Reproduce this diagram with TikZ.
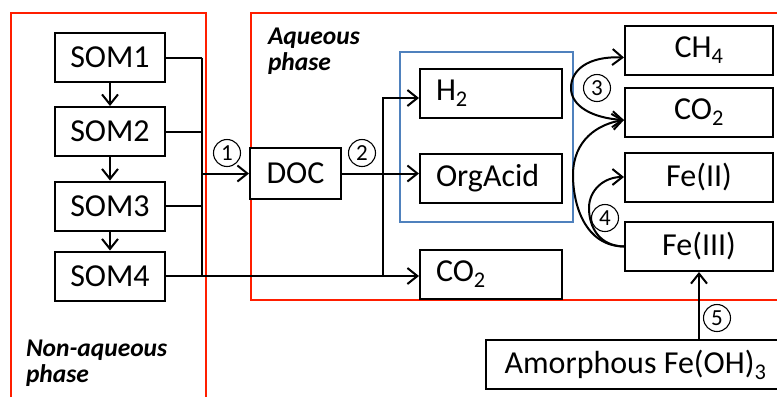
\documentclass[tikz,border=0pt]{standalone}
\usepackage{fontspec}
\setmainfont{Carlito}
\usetikzlibrary{arrows.meta}

\definecolor{phasered}{RGB}{255,30,0}
\definecolor{poolblue}{RGB}{79,129,189}

\begin{document}
\begin{tikzpicture}[x=1pt, y=-1pt, line width=2pt, >={Straight Barb[length=10pt,width=16pt]}]
  % Stili comuni
  \tikzset{
    pool/.style={
      draw,
      fill=white,
      minimum width=110pt,
      minimum height=49pt,
      inner sep=0pt,
      font=\fontsize{32}{36}\selectfont
    },
    species/.style={pool, minimum width=148pt},
    dissolved/.style={pool, minimum width=142pt, text width=110pt, align=left, inner xsep=16pt},
    phase/.style={draw=phasered, line width=2pt},
    phaselabel/.style={font=\fontsize{25.5}{26}\selectfont\bfseries\itshape, align=left, anchor=north west, inner sep=0pt},
    rxn/.style={circle, draw, line width=1.1pt, minimum size=27pt, inner sep=0pt, font=\fontsize{23}{23}\selectfont}
  }
  \useasboundingbox (0,0) rectangle (777,397);
  \clip (0,0) rectangle (777,397);

  % Fasi
  \draw[phase] (11,397) -- (11,13) -- (206,13) -- (206,397);
  \draw[phase] (777,300) -- (251,300) -- (251,13) -- (777,13);
  \draw[draw=poolblue] (400,52) rectangle (573,222);
  \node[phaselabel] (aq) at (267,27) {Aqueous\\phase};
  \node[phaselabel] (naq) at (25,339) {Non-aqueous\\phase};

  % Pool di sostanza organica
  \node[pool] (SOM1) at (110,57.5) {SOM1};
  \node[pool] (SOM2) at (110,131.5) {SOM2};
  \node[pool] (SOM3) at (110,206) {SOM3};
  \node[pool] (SOM4) at (110,276) {SOM4};

  % Fase acquosa
  \node[pool, minimum width=91pt, minimum height=51pt] (DOC) at (295.5,173.5) {DOC};
  \node[dissolved] (H2) at (491,93) {H\textsubscript{2}};
  \node[dissolved] (OrgAcid) at (491,178.5) {OrgAcid};
  \node[dissolved] (CO2b) at (491,274.5) {CO\textsubscript{2}};

  % Prodotti
  \node[species] (CH4) at (699,50.5) {CH\textsubscript{4}};
  \node[species] (CO2a) at (699,112) {CO\textsubscript{2}};
  \node[species] (FeII) at (699,177) {Fe(II)};
  \node[species] (FeIII) at (699,246.5) {Fe(III)};
  \node[pool, minimum width=299pt] (FeOH) at (635.5,364.5) {Amorphous Fe(OH)\textsubscript{3}};

  % Decomposizione SOM
  \foreach \a/\b in {SOM1/SOM2, SOM2/SOM3, SOM3/SOM4}
    \draw[->] (\a) -- (\b);

  % Dissoluzione (1)
  \coordinate (hub) at (202,0);
  \foreach \s in {SOM1,SOM2,SOM3}
    \draw (\s.east) -- (\s.east -| hub);
  \draw (SOM1.east -| hub) -- (SOM4.east -| hub);
  \draw[->] (DOC.west -| hub) -- (DOC.west);
  \draw[->] (SOM4.east) -- (SOM4.east -| CO2b.west);
  \node[rxn] (r1) at (227,153) {1};

  % Fermentazione (2)
  \coordinate (split) at (383,0);
  \draw[->] (DOC.east) -- (DOC.east -| OrgAcid.west);
  \draw[->] (SOM4.east -| split) |- ([yshift=-5pt]H2.west);
  \node[rxn] (r2) at (362,153) {2};

  % Metanogenesi (3)
  \draw[<->] ([yshift=-7pt]CH4.west) .. controls (588,56) and (571,70) .. (571,88)
    .. controls (571,106) and (592,118) .. ([yshift=-8pt]CO2a.west);
  \node[rxn] (r3) at (597,88) {3};

  % Riduzione del ferro (4)
  \draw[->] (FeIII.west) .. controls (585,246) and (573,205) .. (573,175)
    .. controls (573,140) and (598,124) .. ([yshift=-8pt]CO2a.west);
  \draw[->] (FeIII.west) .. controls (600,246) and (589,228) .. (589,208)
    .. controls (589,190) and (604,177) .. (FeII.west);
  \node[rxn] (r4) at (605,218) {4};

  % Dissoluzione ossidi (5)
  \draw[->] (FeIII.south |- FeOH.north) -- (FeIII.south);
  \node[rxn] (r5) at (717,318) {5};
\end{tikzpicture}
\end{document}
